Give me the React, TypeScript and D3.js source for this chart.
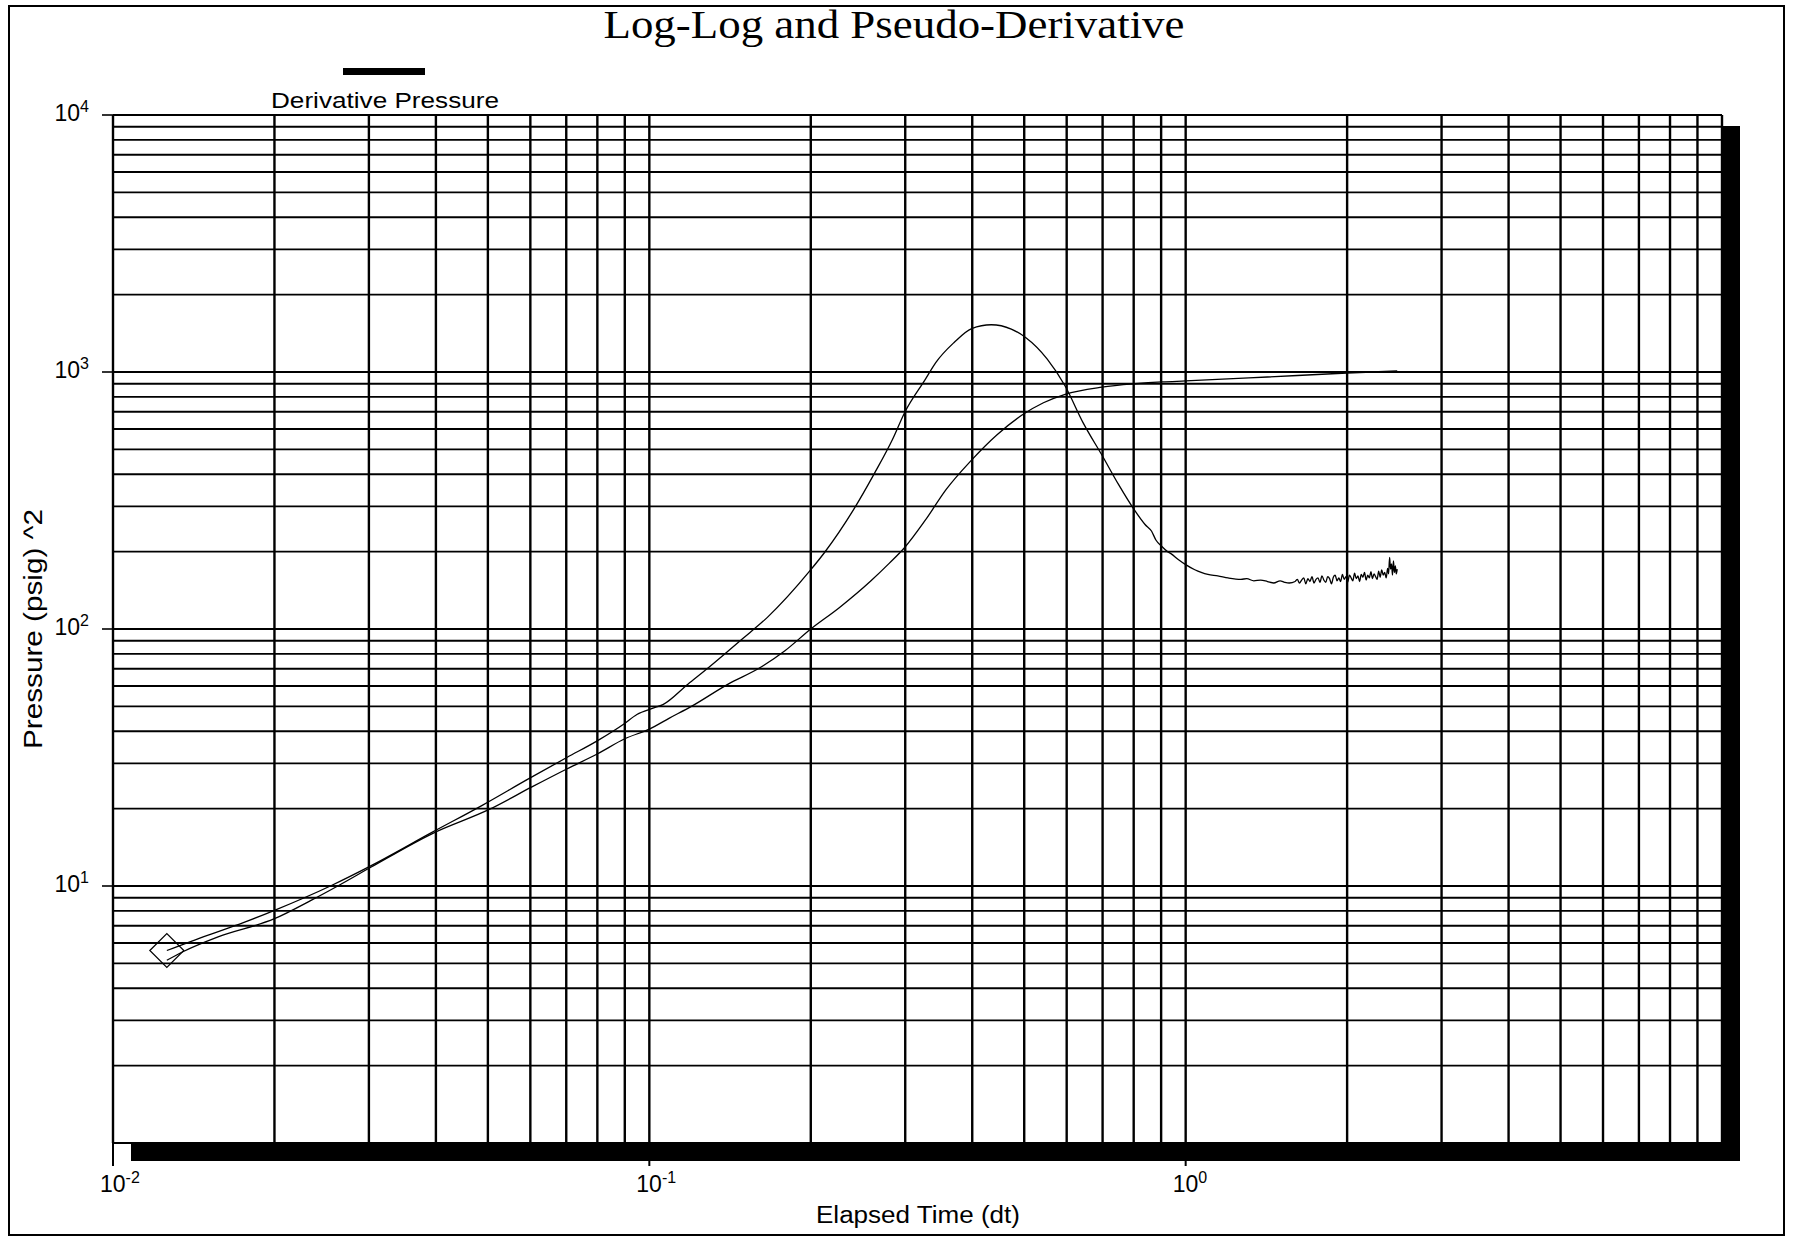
import React from 'react';
import * as d3 from 'd3';

const chartTitle = 'Log-Log and Pseudo-Derivative';
const legendLabel = 'Derivative Pressure';
const xAxisLabel = 'Elapsed Time (dt)';
const yAxisLabel = 'Pressure (psig) ^2';

const xTickExponents = [-2, -1, 0];
const yTickExponents = [4, 3, 2, 1];

const derivTime = [
  0.0126, 0.015, 0.0175, 0.02, 0.0256, 0.0303, 0.0394, 0.0488, 0.0595, 0.0703, 0.0801, 0.0898, 0.0948,
  0.1016, 0.106, 0.118, 0.129, 0.149, 0.166, 0.1995, 0.212, 0.24, 0.263, 0.284, 0.299, 0.327, 0.342,
  0.37, 0.399, 0.434, 0.473, 0.503, 0.552, 0.596, 0.644, 0.7, 0.749, 0.801, 0.84, 0.864, 0.88, 0.902,
  0.925, 0.94, 0.97, 1.0, 1.04, 1.069, 1.1, 1.148, 1.2, 1.268, 1.3, 1.34, 1.38, 1.421, 1.46, 1.5, 1.53,
  1.56,
  1.6, 1.615, 1.63, 1.645, 1.66, 1.675, 1.69, 1.705, 1.72, 1.735,
  1.75, 1.765, 1.78, 1.795, 1.81, 1.825, 1.84, 1.855, 1.87, 1.885,
  1.9, 1.915, 1.93, 1.945, 1.96, 1.975, 1.99, 2.005, 2.02, 2.035,
  2.05, 2.065, 2.08, 2.095, 2.11, 2.125, 2.14, 2.155, 2.17, 2.185,
  2.2, 2.215, 2.23, 2.245, 2.26, 2.275, 2.29, 2.305, 2.32, 2.335,
  2.35, 2.365, 2.38, 2.39, 2.4, 2.41, 2.42, 2.43, 2.44, 2.45,
  2.46, 2.47, 2.48,
];
const derivValue = [
  5.61, 6.43, 7.2, 8.04, 10.07, 12.0, 16.2, 20.6, 26.1, 31.7, 36.8, 42.8, 46.5,
  49.2, 50.8, 61, 70.8, 91.4, 111, 169, 198, 290, 404, 546, 693, 936, 1088,
  1303, 1476, 1527, 1469, 1362, 1122, 882, 634, 470, 366, 292, 255, 240, 222, 210,
  200, 196, 186, 178, 170, 166, 163, 161, 158, 156, 157, 154, 155, 153, 151, 154, 152,
  151,
  153, 156, 151, 155, 158, 150, 157, 153, 160, 151,
  156, 158, 152, 161, 155, 152, 160, 157, 150, 159,
  162, 154, 158, 153, 163, 156, 160, 152, 162, 158,
  154, 165, 157, 161, 153, 163, 159, 166, 155, 162,
  158, 167, 157, 164, 160, 156, 168, 159, 170, 162,
  166, 158, 172, 164, 190, 171, 179, 162, 184, 166,
  176, 164, 171,
];

const pressTime = [
  0.0126, 0.0135, 0.0157, 0.02, 0.0234, 0.0264, 0.0303, 0.0394, 0.0504, 0.0604, 0.0703, 0.0801, 0.09,
  0.1, 0.109, 0.12, 0.14, 0.161, 0.179, 0.2, 0.226, 0.259, 0.28, 0.299, 0.327, 0.358, 0.398, 0.445,
  0.497, 0.543, 0.596, 0.698, 0.804, 0.904, 1.0, 1.42, 2.0, 2.48,
];
const pressValue = [
  5.14, 5.55, 6.34, 7.46, 8.79, 10.07, 11.85, 16.0, 19.9, 24.3, 28.6, 32.7, 37.4,
  40.8, 45.0, 50.1, 60.9, 70.8, 82.3, 100, 121, 154, 180, 207, 265, 350, 452, 570,
  683, 759, 819, 873, 900, 915, 923, 956, 991, 1009,
];

const W = 1793;
const H = 1238;
const L = 113;
const T = 115;
const R = 1722;
const B = 1143;

export default function App() {
  const x = d3.scaleLog().domain([0.01, 10]).range([L, R]);
  const y = d3.scaleLog().domain([1, 10000]).range([B, T]);

  const xGrid: number[] = [];
  for (let k = -2; k <= 0; k++) for (let m = 1; m <= 9; m++) xGrid.push(m * Math.pow(10, k));
  xGrid.push(10);
  const yGrid: number[] = [];
  for (let k = 0; k <= 3; k++) for (let m = 1; m <= 9; m++) yGrid.push(m * Math.pow(10, k));
  yGrid.push(10000);

  const line = d3
    .line<[number, number]>()
    .x((d) => x(d[0]))
    .y((d) => y(d[1]))
    .curve(d3.curveMonotoneX);

  const deriv: [number, number][] = derivTime.map((t, i) => [t, derivValue[i]]);
  const press: [number, number][] = pressTime.map((t, i) => [t, pressValue[i]]);

  const dx = x(deriv[0][0]);
  const dy = y(deriv[0][1]);
  const ds = 17;

  const sans = '"Liberation Sans", Arial, sans-serif';

  return (
    <div style={{ position: 'absolute', left: 0, top: 0 }}>
      <svg width={W} height={H} viewBox={`0 0 ${W} ${H}`} style={{ display: 'block', background: '#fff' }}>
        <rect x={0} y={0} width={W} height={H} fill="#fff" />
        <rect x={9} y={6} width={1775} height={1229} fill="none" stroke="#000" strokeWidth={2} />

        <text
          x={894}
          y={38}
          textAnchor="middle"
          fontFamily='"Liberation Serif", "Times New Roman", serif'
          fontSize={41}
          textLength={581}
          lengthAdjust="spacingAndGlyphs"
        >
          {chartTitle}
        </text>

        <rect x={343} y={68} width={82} height={7} fill="#000" />
        <text x={385} y={108} textAnchor="middle" fontFamily={sans} fontSize={22} textLength={228} lengthAdjust="spacingAndGlyphs">
          {legendLabel}
        </text>

        {/* shadow */}
        <rect x={L + 18} y={T + 11} width={R - L} height={B - T + 7} fill="#000" />
        <rect x={L} y={T} width={R - L} height={B - T} fill="#fff" />

        {/* grid */}
        {yGrid.map((v, i) => (
          <line key={'h' + i} x1={L} x2={R} y1={y(v)} y2={y(v)} stroke="#000" strokeWidth={1.9} />
        ))}
        {xGrid.map((v, i) => (
          <line key={'v' + i} x1={x(v)} x2={x(v)} y1={T} y2={B} stroke="#000" strokeWidth={2.4} />
        ))}

        {/* y ticks and labels */}
        {yTickExponents.map((e) => (
          <g key={'yt' + e}>
            <line x1={L - 11} x2={L} y1={y(Math.pow(10, e))} y2={y(Math.pow(10, e))} stroke="#000" strokeWidth={1.6} />
            <text x={89} y={y(Math.pow(10, e)) + 6} textAnchor="end" fontFamily={sans} fontSize={23}>
              <tspan>10</tspan>
              <tspan dy={-9} fontSize={16}>{String(e)}</tspan>
            </text>
          </g>
        ))}

        {/* x ticks and labels */}
        {xTickExponents.map((e) => (
          <g key={'xt' + e}>
            <line x1={x(Math.pow(10, e))} x2={x(Math.pow(10, e))} y1={B} y2={B + 23} stroke="#000" strokeWidth={2} />
            <text x={x(Math.pow(10, e)) - 13} y={1192} fontFamily={sans} fontSize={23}>
              <tspan>10</tspan>
              <tspan dy={-9} fontSize={16}>{String(e)}</tspan>
            </text>
          </g>
        ))}
        <rect x={L + 18} y={B} width={R - L} height={18} fill="#000" />
        <rect x={R} y={T + 11} width={18} height={B + 18 - (T + 11)} fill="#000" />

        {/* axis titles */}
        <text x={918} y={1223} textAnchor="middle" fontFamily={sans} fontSize={23} textLength={204} lengthAdjust="spacingAndGlyphs">
          {xAxisLabel}
        </text>
        <text
          transform={`translate(42, 629) rotate(-90)`}
          textAnchor="middle"
          fontFamily={sans}
          fontSize={25}
          textLength={240}
          lengthAdjust="spacingAndGlyphs"
        >
          {yAxisLabel}
        </text>

        {/* curves */}
        <path d={line(press) || ''} fill="none" stroke="#000" strokeWidth={1.3} />
        <path d={line(deriv) || ''} fill="none" stroke="#000" strokeWidth={1.3} />
        <path
          d={`M${dx - ds},${dy} L${dx},${dy - ds} L${dx + ds},${dy} L${dx},${dy + ds} Z`}
          fill="none"
          stroke="#000"
          strokeWidth={1.2}
        />
      </svg>
    </div>
  );
}
